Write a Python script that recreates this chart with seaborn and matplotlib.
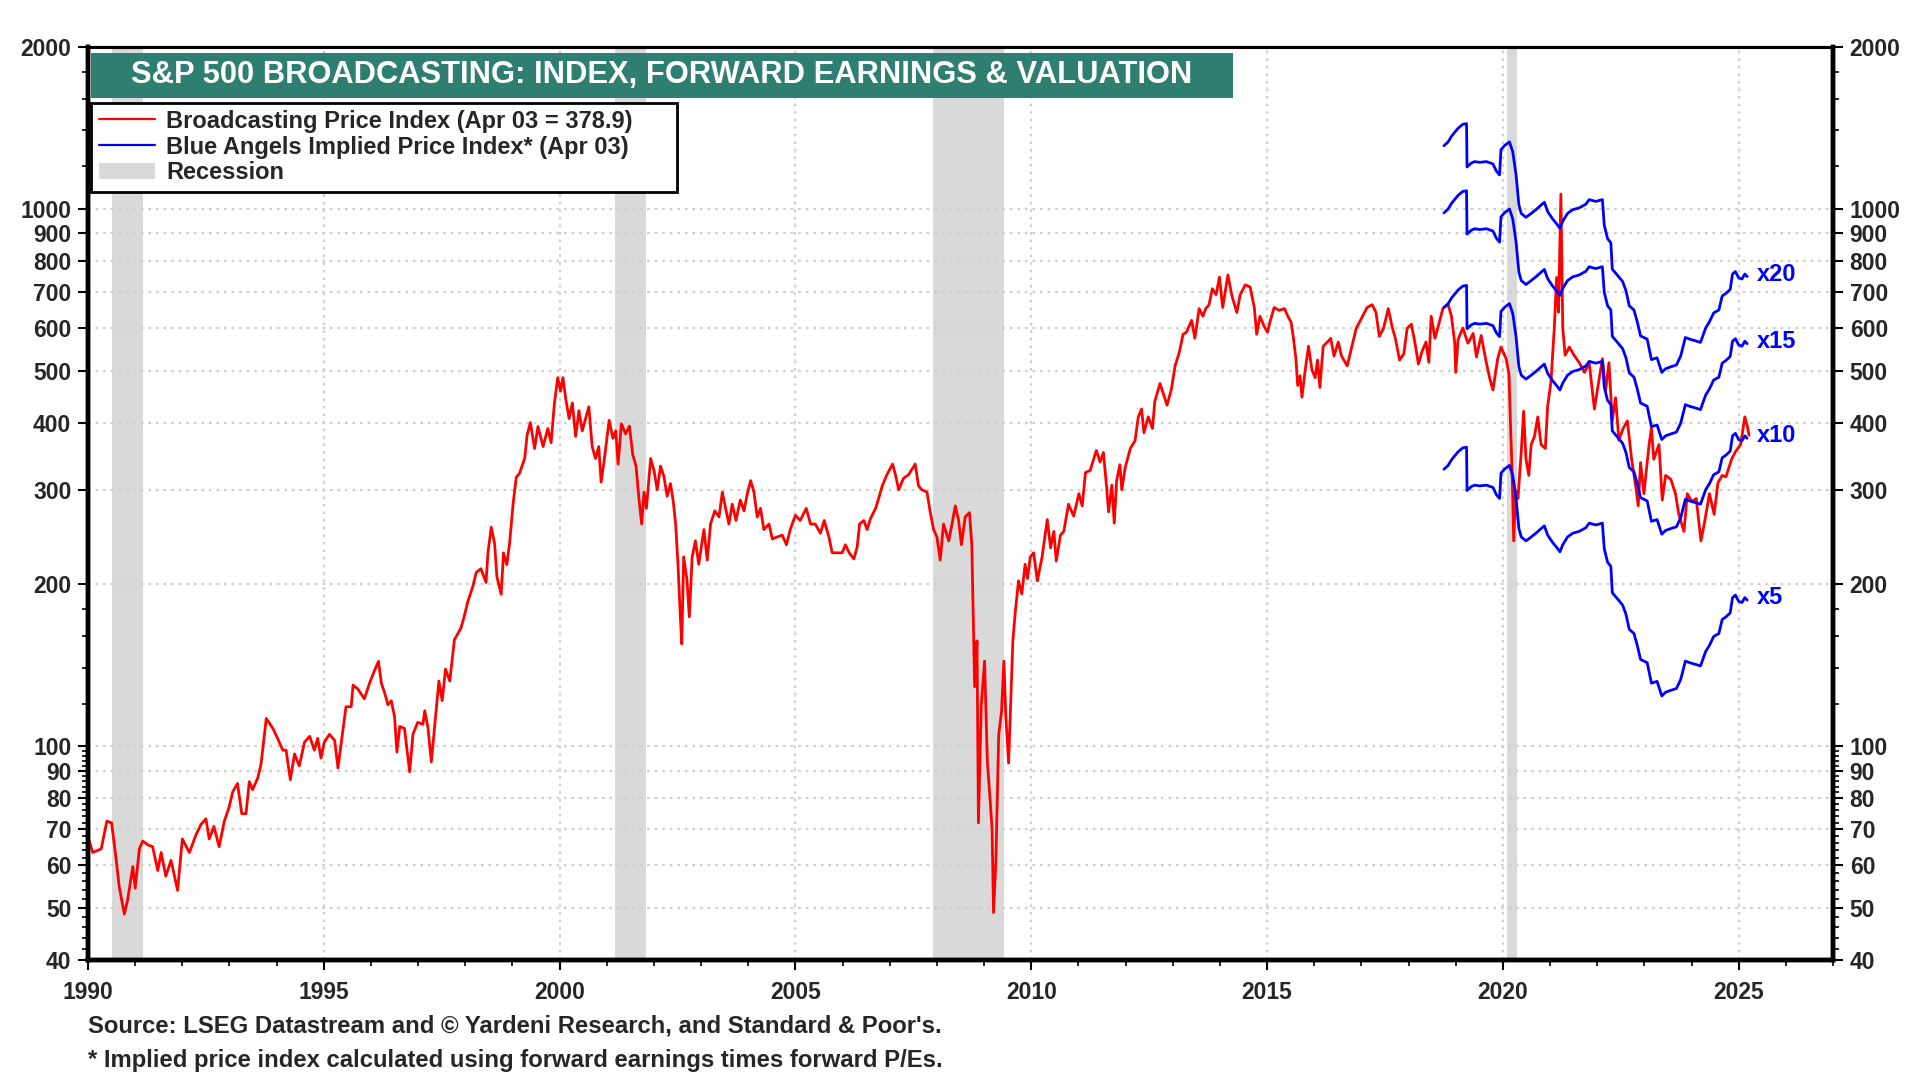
import numpy as np
import pandas as pd
import matplotlib
matplotlib.use("Agg")
import matplotlib.pyplot as plt
import seaborn as sns
from matplotlib.lines import Line2D
from matplotlib.patches import Patch, Rectangle
from matplotlib.ticker import FixedLocator, FixedFormatter, NullFormatter

# ---------------- data ----------------
price_years = [
    1990.00, 1990.10, 1990.28, 1990.40, 1990.50, 1990.60, 1990.66, 1990.77, 1990.84, 1990.95,
    1991.00, 1991.09, 1991.16, 1991.27, 1991.37, 1991.48, 1991.55, 1991.65, 1991.76, 1991.90,
    1992.00, 1992.15, 1992.29, 1992.40, 1992.50, 1992.57, 1992.67, 1992.78, 1992.89, 1992.99,
    1993.07, 1993.17, 1993.26, 1993.35, 1993.42, 1993.49, 1993.60, 1993.67, 1993.78, 1993.92,
    1994.02, 1994.13, 1994.20, 1994.29, 1994.38, 1994.48, 1994.59, 1994.70, 1994.80, 1994.87,
    1994.94, 1995.01, 1995.12, 1995.23, 1995.30, 1995.40, 1995.47, 1995.58, 1995.62, 1995.72,
    1995.86, 1995.97, 1996.07, 1996.16, 1996.22, 1996.29, 1996.36, 1996.43, 1996.50, 1996.55,
    1996.61, 1996.71, 1996.82, 1996.89, 1996.99, 1997.10, 1997.14, 1997.21, 1997.28, 1997.35,
    1997.44, 1997.51, 1997.58, 1997.67, 1997.77, 1997.84, 1997.91, 1997.98, 1998.05, 1998.16,
    1998.23, 1998.33, 1998.44, 1998.48, 1998.55, 1998.62, 1998.67, 1998.76, 1998.81, 1998.88,
    1998.94, 1999.01, 1999.08, 1999.15, 1999.26, 1999.31, 1999.38, 1999.47, 1999.54, 1999.65,
    1999.75, 1999.82, 1999.89, 1999.96,
    2000.02, 2000.07, 2000.13, 2000.20, 2000.27, 2000.34, 2000.41, 2000.48, 2000.55, 2000.62,
    2000.69, 2000.76, 2000.83, 2000.88, 2000.95, 2001.05, 2001.13, 2001.19, 2001.24, 2001.31,
    2001.40, 2001.48, 2001.55, 2001.62, 2001.68, 2001.74, 2001.79, 2001.84, 2001.93, 2002.00,
    2002.07, 2002.14, 2002.21, 2002.28, 2002.35, 2002.41, 2002.46, 2002.51, 2002.56, 2002.59,
    2002.63, 2002.70, 2002.75, 2002.81, 2002.88, 2002.95, 2003.06, 2003.13, 2003.20, 2003.29,
    2003.38, 2003.45, 2003.52, 2003.59, 2003.66, 2003.74, 2003.83, 2003.91, 2003.98, 2004.05,
    2004.12, 2004.19, 2004.26, 2004.33, 2004.44, 2004.51, 2004.61, 2004.72, 2004.81, 2004.89,
    2005.00, 2005.10, 2005.23, 2005.32, 2005.42, 2005.53, 2005.61, 2005.71, 2005.78, 2005.88,
    2005.99, 2006.06, 2006.14, 2006.24, 2006.31, 2006.36, 2006.45, 2006.52, 2006.59, 2006.70,
    2006.77, 2006.84, 2006.94, 2007.06, 2007.12, 2007.19, 2007.29, 2007.40, 2007.54, 2007.61,
    2007.68, 2007.79, 2007.86, 2007.93, 2008.00, 2008.07, 2008.14, 2008.25, 2008.32, 2008.39,
    2008.46, 2008.52, 2008.60, 2008.69, 2008.74, 2008.76, 2008.80, 2008.85, 2008.88, 2008.94,
    2009.01, 2009.07, 2009.13, 2009.17, 2009.20, 2009.25, 2009.31, 2009.37, 2009.42, 2009.46,
    2009.52, 2009.57, 2009.61, 2009.66, 2009.73, 2009.80, 2009.87, 2009.92, 2009.98,
    2010.05, 2010.13, 2010.23, 2010.34, 2010.41, 2010.48, 2010.53, 2010.62, 2010.69, 2010.79,
    2010.90, 2011.01, 2011.08, 2011.15, 2011.25, 2011.38, 2011.46, 2011.53, 2011.60, 2011.64,
    2011.71, 2011.76, 2011.81, 2011.88, 2011.92, 2011.99, 2012.10, 2012.20, 2012.27, 2012.34,
    2012.39, 2012.48, 2012.57, 2012.62, 2012.73, 2012.81, 2012.88, 2012.97, 2013.05, 2013.14,
    2013.22, 2013.29, 2013.40, 2013.47, 2013.56, 2013.64, 2013.70, 2013.77, 2013.84, 2013.92,
    2013.99, 2014.06, 2014.17, 2014.26, 2014.36, 2014.43, 2014.54, 2014.64, 2014.73, 2014.78,
    2014.85, 2014.94, 2015.01, 2015.06, 2015.15, 2015.26, 2015.37, 2015.44, 2015.51, 2015.56,
    2015.61, 2015.65, 2015.70, 2015.74, 2015.81, 2015.88, 2015.95, 2016.02, 2016.07, 2016.12,
    2016.19, 2016.28, 2016.35, 2016.42, 2016.51, 2016.58, 2016.70, 2016.81, 2016.89, 2016.98,
    2017.12, 2017.23, 2017.31, 2017.38, 2017.47, 2017.57, 2017.65, 2017.72, 2017.81, 2017.90,
    2017.97, 2018.06, 2018.14, 2018.21, 2018.28, 2018.37, 2018.43, 2018.48, 2018.56, 2018.62,
    2018.73, 2018.84, 2018.91, 2018.98, 2019.00, 2019.05, 2019.15, 2019.26, 2019.37, 2019.44,
    2019.54, 2019.65, 2019.72, 2019.79, 2019.89, 2019.96, 2020.07, 2020.13, 2020.16, 2020.20,
    2020.23, 2020.27, 2020.32, 2020.39, 2020.44, 2020.49, 2020.55, 2020.60, 2020.67, 2020.74,
    2020.81, 2020.90, 2020.95, 2021.02, 2021.09, 2021.14, 2021.18, 2021.23, 2021.27, 2021.32,
    2021.41, 2021.51, 2021.62, 2021.73, 2021.83, 2021.94, 2022.03, 2022.11, 2022.18, 2022.25,
    2022.32, 2022.39, 2022.46, 2022.55, 2022.64, 2022.73, 2022.82, 2022.87, 2022.92, 2022.99,
    2023.10, 2023.15, 2023.20, 2023.31, 2023.38, 2023.45, 2023.56, 2023.66, 2023.73, 2023.84,
    2023.91, 2024.01, 2024.10, 2024.20, 2024.28, 2024.38, 2024.48, 2024.56, 2024.65, 2024.73,
    2024.85, 2024.93, 2025.04, 2025.08, 2025.13, 2025.18, 2025.22,
]
price_values = [
    67.8, 63.4, 64.4, 72.5, 72.0, 61.3, 54.9, 48.7, 51.7, 59.7,
    54.4, 64.4, 66.6, 65.5, 65.0, 58.7, 63.4, 57.3, 61.3, 53.9,
    67.2, 63.4, 68.4, 71.6, 73.2, 67.2, 70.9, 65.0, 72.5, 76.9,
    82.3, 85.2, 74.9, 74.9, 85.9, 83.0, 87.3, 92.7, 112.6, 107.9,
    103.4, 98.3, 98.3, 86.6, 96.7, 91.9, 101.7, 104.3, 98.3, 103.4,
    95.0, 101.7, 105.2, 102.5, 91.1, 106.1, 118.4, 118.4, 129.9, 127.8,
    122.5, 131.0, 137.9, 143.8, 131.0, 125.6, 119.4, 121.5, 113.5, 97.5,
    108.8, 107.9, 89.6, 105.2, 110.7, 109.8, 116.4, 107.9, 93.5, 108.8,
    132.2, 121.5, 139.1, 132.2, 157.9, 161.8, 166.1, 174.7, 185.4, 198.3,
    210.3, 213.9, 201.7, 228.9, 255.5, 238.8, 206.8, 191.7, 228.9, 217.6,
    238.8, 280.5, 316.4, 321.8, 343.4, 378.9, 400.0, 358.0, 393.4, 361.0,
    390.0, 367.0, 435.0, 485.0,
    458, 485, 443, 407, 435, 377, 421, 386, 407, 428,
    361, 343, 361, 310, 343, 404, 374, 386, 335, 398,
    381, 394, 349, 332, 290, 259, 297, 277, 343, 326,
    300, 332, 318, 292, 308, 285, 259, 218, 174, 155,
    225, 204, 174, 225, 241, 218, 253, 222, 259, 274,
    267, 297, 277, 259, 282, 263, 287, 274, 295, 312,
    297, 267, 277, 253, 259, 243, 245, 247, 237, 253,
    269, 263, 277, 259, 259, 249, 263, 245, 229, 229,
    229, 237, 229, 223, 235, 259, 263, 253, 265, 277,
    290, 305, 320, 335, 320, 300, 315, 320, 335, 305,
    300, 297, 272, 253, 245, 222, 259, 241, 259, 280,
    263, 237, 267, 272, 237, 192, 129, 157, 72, 119,
    144, 93.5, 79, 70, 49, 61, 105, 116, 144, 114,
    93, 125, 157, 177, 203, 192, 218, 205, 225,
    229, 203, 225, 264, 234, 251, 221, 247, 251, 282,
    268, 295, 280, 323, 326, 355, 338, 352, 302, 273,
    306, 260, 312, 334, 300, 329, 358, 370, 410, 424,
    383, 410, 390, 438, 473, 450, 431, 461, 510, 541,
    584, 589, 620, 574, 652, 631, 652, 663, 710, 692,
    746, 655, 753, 686, 641, 692, 722, 715, 655, 584,
    631, 604, 589, 615, 655, 647, 652, 631, 615, 574,
    528, 469, 489, 446, 502, 555, 502, 485, 523, 465,
    555, 565, 574, 532, 565, 532, 510, 560, 599, 620,
    655, 663, 641, 579, 599, 652, 604, 574, 523, 537,
    599, 610, 560, 514, 541, 565, 518, 631, 574, 600,
    653, 664, 631, 562, 496, 571, 600, 562, 586, 530,
    581, 517, 484, 460, 526, 553, 526, 492, 403, 314,
    241, 299, 289, 353, 420, 342, 319, 364, 377, 410,
    364, 358, 430, 476, 600, 745, 642, 1065, 600, 534,
    553, 534, 517, 496, 517, 424, 476, 526, 460, 517,
    403, 445, 371, 390, 403, 342, 303, 280, 337, 295,
    364, 390, 342, 364, 287, 319, 314, 295, 270, 251,
    295, 285, 289, 241, 262, 295, 270, 309, 319, 317,
    342, 353, 364, 383, 410, 395, 378.9,
]

eps_years = [
    2018.75, 2018.84, 2018.91, 2018.98, 2019.05, 2019.15, 2019.23, 2019.24, 2019.33, 2019.40,
    2019.51, 2019.65, 2019.79, 2019.86, 2019.93, 2019.96, 2020.04, 2020.14, 2020.21, 2020.28,
    2020.34, 2020.39, 2020.49, 2020.60, 2020.70, 2020.81, 2020.88, 2020.95, 2021.06, 2021.13,
    2021.21, 2021.27, 2021.37, 2021.48, 2021.62, 2021.76, 2021.83, 2021.97, 2022.11, 2022.15,
    2022.22, 2022.29, 2022.32, 2022.43, 2022.54, 2022.61, 2022.68, 2022.78, 2022.85, 2022.92,
    2023.06, 2023.15, 2023.27, 2023.37, 2023.45, 2023.56, 2023.68, 2023.77, 2023.87, 2023.96,
    2024.08, 2024.19, 2024.30, 2024.38, 2024.47, 2024.58, 2024.65, 2024.73, 2024.82, 2024.87,
    2024.93, 2025.00, 2025.07, 2025.13, 2025.18,
]
forward_eps = [
    65.5, 66.6, 68.2, 69.4, 70.6, 71.8, 72.0, 59.8, 60.8, 61.2,
    61.0, 61.2, 60.6, 58.8, 57.8, 64.4, 65.6, 66.6, 63.8, 57.8,
    50.8, 49.0, 48.2, 49.0, 49.8, 50.8, 51.4, 49.4, 47.8, 47.0,
    46.0, 47.4, 49.0, 49.8, 50.2, 51.0, 52.0, 51.6, 52.0, 46.6,
    44.0, 43.2, 38.6, 37.6, 36.6, 35.2, 33.0, 32.4, 30.8, 29.0,
    28.6, 26.2, 26.4, 24.8, 25.2, 25.4, 25.6, 26.6, 28.8, 28.6,
    28.4, 28.2, 30.0, 30.8, 32.0, 32.4, 34.4, 34.8, 35.4, 37.8,
    38.2, 37.2, 37.0, 37.8, 37.4,
]
pe_multiples = [5, 10, 15, 20]
multiple_labels = ["x5", "x10", "x15", "x20"]

recessions = [(1990.50, 1991.17), (2001.17, 2001.83), (2007.92, 2009.42), (2020.08, 2020.29)]

y_major = [40, 50, 60, 70, 80, 90, 100, 200, 300, 400, 500, 600, 700, 800, 900, 1000, 2000]
y_minor = ([42, 44, 46, 48, 52, 54, 56, 58, 62, 64, 66, 68, 72, 74, 76, 78, 82, 84, 86, 88,
            92, 94, 96, 98, 120, 140, 160, 180, 1200, 1400, 1600, 1800])
x_major = [1990, 1995, 2000, 2005, 2010, 2015, 2020, 2025]

title_text = "S&P 500 BROADCASTING: INDEX, FORWARD EARNINGS & VALUATION"
legend_labels = ["Broadcasting Price Index (Apr 03 = 378.9)",
                 "Blue Angels Implied Price Index* (Apr 03)",
                 "Recession"]
footnotes = ["Source: LSEG Datastream and \u00a9 Yardeni Research, and Standard & Poor's.",
             "* Implied price index calculated using forward earnings times forward P/Es."]

# ---------------- frames ----------------
price_df = pd.DataFrame({"year": price_years, "value": price_values})
implied_df = pd.concat(
    [pd.DataFrame({"year": eps_years,
                   "value": [e * m for e in forward_eps],
                   "multiple": lab})
     for m, lab in zip(pe_multiples, multiple_labels)],
    ignore_index=True)

# ---------------- style ----------------
sns.set_theme(style="white")
plt.rcParams["font.family"] = ["Liberation Sans", "DejaVu Sans"]
plt.rcParams["font.weight"] = "bold"

RED = "#FF0000"
BLUE = "#0000FF"
TEAL = "#2E7F72"
GRID = "#CFCFCF"
RECESS = "#D9D9D9"

fig = plt.figure(figsize=(19.2, 10.8), dpi=100)
ax = fig.add_axes([88 / 1920, 1 - 960 / 1080, (1833 - 88) / 1920, (960 - 47) / 1080])

for a, b in recessions:
    ax.axvspan(a, b, color=RECESS, lw=0, zorder=0)

sns.lineplot(data=price_df, x="year", y="value", ax=ax, color=RED, lw=2.0,
             estimator=None, sort=False, zorder=3, legend=False)
sns.lineplot(data=implied_df, x="year", y="value", hue="multiple", units="multiple",
             palette={lab: BLUE for lab in multiple_labels}, ax=ax, lw=2.0,
             estimator=None, sort=False, zorder=4, legend=False)

ax.set_yscale("log")
ax.set_ylim(40, 2000)
ax.set_xlim(1990, 2027)
ax.set_xlabel("")
ax.set_ylabel("")

ax.yaxis.set_major_locator(FixedLocator(y_major))
ax.yaxis.set_major_formatter(FixedFormatter([str(v) for v in y_major]))
ax.yaxis.set_minor_locator(FixedLocator(y_minor))
ax.yaxis.set_minor_formatter(NullFormatter())
ax.xaxis.set_major_locator(FixedLocator(x_major))
ax.xaxis.set_minor_locator(FixedLocator(list(range(1990, 2028))))

ax.grid(True, which="major", axis="both", color=GRID, lw=1.6, ls=(0, (1.2, 2.2)), zorder=1)
ax.set_axisbelow(True)

ax2 = ax.twinx()
ax2.set_yscale("log")
ax2.set_ylim(40, 2000)
ax2.yaxis.set_major_locator(FixedLocator(y_major))
ax2.yaxis.set_major_formatter(FixedFormatter([str(v) for v in y_major]))
ax2.yaxis.set_minor_locator(FixedLocator(y_minor))
ax2.yaxis.set_minor_formatter(NullFormatter())
ax2.grid(False)

for a in (ax, ax2):
    for side in ("left", "right", "bottom"):
        a.spines[side].set_linewidth(3.2)
        a.spines[side].set_color("black")
    a.spines["top"].set_linewidth(2.2)
    a.spines["top"].set_color("black")
    a.tick_params(which="major", length=7, width=1.5, color="black", labelsize=16.5)
    a.tick_params(which="minor", length=4, width=1.2, color="black")

ax.tick_params(axis="y", which="both", left=True, right=False, direction="out", pad=5)
ax.tick_params(axis="x", which="both", bottom=True, direction="out", pad=8)
ax2.tick_params(axis="y", which="both", right=True, left=False, direction="out", pad=5)
for lab in ax.get_xticklabels() + ax.get_yticklabels() + ax2.get_yticklabels():
    lab.set_fontweight("bold")

# multiple labels at line ends
for m, lab in zip(pe_multiples, multiple_labels):
    ax.text(2025.38, forward_eps[-1] * m * 1.01, lab, color=BLUE, fontsize=17,
            fontweight="bold", ha="left", va="center", zorder=6)

# title box
fig.patches.append(Rectangle((91 / 1920, 1 - 98 / 1080), (1233 - 91) / 1920, 45 / 1080,
                             transform=fig.transFigure, facecolor=TEAL, edgecolor="none",
                             zorder=5))
fig.text((91 + 1233) / 2 / 1920, 1 - 75.5 / 1080, title_text, color="white",
         fontsize=22.2, fontweight="bold", ha="center", va="center", zorder=6)

# legend (frame drawn separately to match the reference box)
fig.patches.append(Rectangle((91 / 1920, 1 - 192 / 1080), (677 - 91) / 1920, (192 - 103) / 1080,
                             transform=fig.transFigure, facecolor="white", edgecolor="black",
                             lw=2.0, zorder=6))
handles = [Line2D([0], [0], color=RED, lw=1.6),
           Line2D([0], [0], color=BLUE, lw=1.6),
           Patch(facecolor=RECESS, edgecolor="none")]
leg = fig.legend(handles, legend_labels, loc="upper left",
                 bbox_to_anchor=(94 / 1920, 1 - 105 / 1080), bbox_transform=fig.transFigure,
                 borderaxespad=0, frameon=False,
                 prop={"weight": "bold", "size": 17}, handlelength=2.4, handleheight=0.7,
                 handletextpad=0.45, labelspacing=0.12, borderpad=0.2)
leg.set_zorder(8)

# footnotes
fig.text(88 / 1920, 1 - 1026 / 1080, footnotes[0], fontsize=17.2, fontweight="bold",
         ha="left", va="center")
fig.text(88 / 1920, 1 - 1060 / 1080, footnotes[1], fontsize=17.2, fontweight="bold",
         ha="left", va="center")

fig.savefig("out.png", dpi=100, facecolor="white")
